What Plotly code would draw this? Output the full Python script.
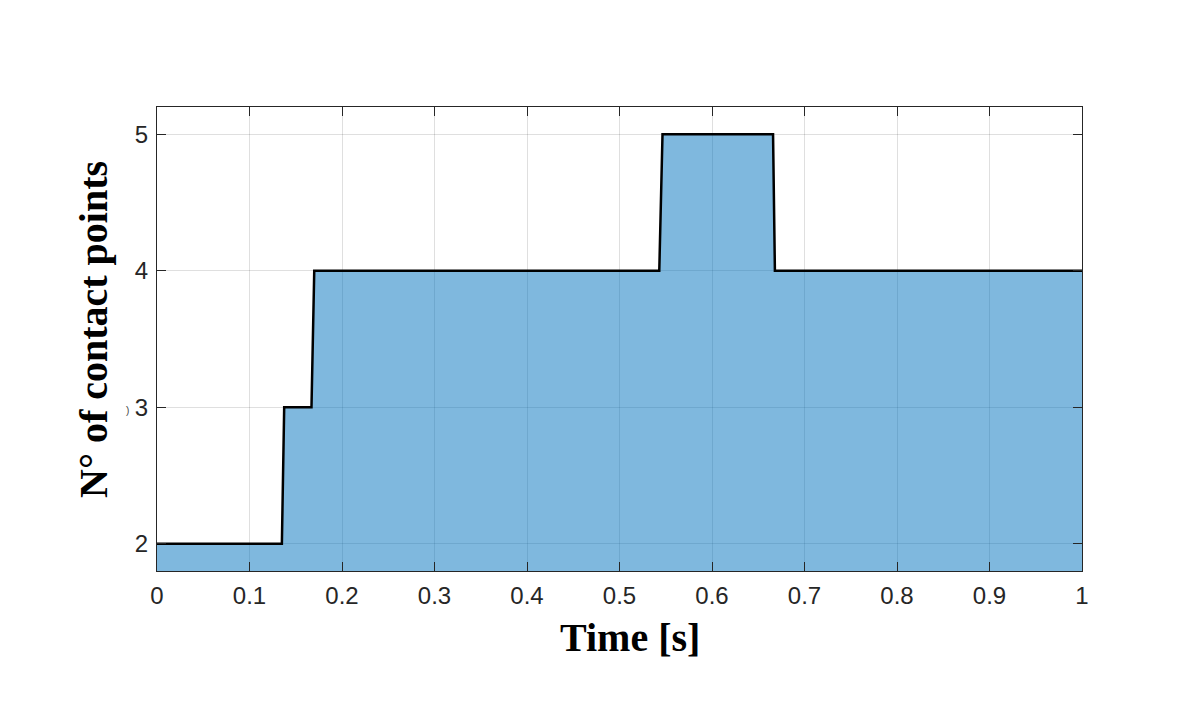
import plotly.graph_objects as go

# contact point count over time
time_s = [0, 0.135, 0.1375, 0.167, 0.170, 0.543, 0.5465, 0.666, 0.668, 1.0]
contacts = [2, 2, 3, 3, 4, 4, 5, 5, 4, 4]

x_ticks = [0, 0.1, 0.2, 0.3, 0.4, 0.5, 0.6, 0.7, 0.8, 0.9, 1]
x_labels = ["0", "0.1", "0.2", "0.3", "0.4", "0.5", "0.6", "0.7", "0.8", "0.9", "1"]
y_ticks = [2, 3, 4, 5]

# plot box in page pixels, used to place the free text
L, R, T, B = 157, 1082, 107, 571


def px(xp):
    return (xp - L) / (R - L)


def py(yp):
    return (B - yp) / (B - T)


fig = go.Figure()
fig.add_trace(go.Scatter(
    x=time_s,
    y=contacts,
    mode="lines",
    fill="tozeroy",
    fillcolor="rgba(0,114,189,0.5)",
    line=dict(color="black", width=2.5),
    showlegend=False,
))

title_font = dict(family="Liberation Serif, Times New Roman", size=40, color="black")

fig.add_annotation(xref="paper", yref="paper", x=px(630), y=py(637),
                   text="<b>Time [s]</b>", showarrow=False, font=title_font,
                   xanchor="center", yanchor="middle")
fig.add_annotation(xref="paper", yref="paper", x=px(93), y=py(330),
                   text="<b>N° of contact points</b>", showarrow=False,
                   font=title_font, textangle=-90,
                   xanchor="center", yanchor="middle")
# small stray glyph left of the y axis
fig.add_annotation(xref="paper", yref="paper", x=px(124), y=py(418),
                   text=")", showarrow=False,
                   font=dict(family="Liberation Sans", size=10, color="#444"))

axis_font = dict(family="Liberation Sans, Arial", size=24, color="#262626")
grid_col = "rgba(38,38,38,0.15)"

fig.update_xaxes(
    range=[0, 1],
    tickvals=x_ticks,
    ticktext=x_labels,
    tickfont=axis_font,
    ticklabelstandoff=3,
    showgrid=True, gridcolor=grid_col, gridwidth=1,
    zeroline=False,
    showline=True, linecolor="#262626", linewidth=1, mirror="ticks",
    ticks="inside", ticklen=9, tickcolor="#262626",
)
fig.update_yaxes(
    range=[1.8, 5.2],
    tickvals=y_ticks,
    tickfont=axis_font,
    ticklabelstandoff=3,
    showgrid=True, gridcolor=grid_col, gridwidth=1,
    zeroline=False,
    showline=True, linecolor="#262626", linewidth=1, mirror="ticks",
    ticks="inside", ticklen=9, tickcolor="#262626",
)

# page adds 8px body margin, so shift margins to keep the plot box in place
fig.update_layout(
    width=1197, height=703,
    margin=dict(l=149, r=123, t=99, b=140),
    plot_bgcolor="white",
    paper_bgcolor="white",
)

fig.write_html("out.html")
